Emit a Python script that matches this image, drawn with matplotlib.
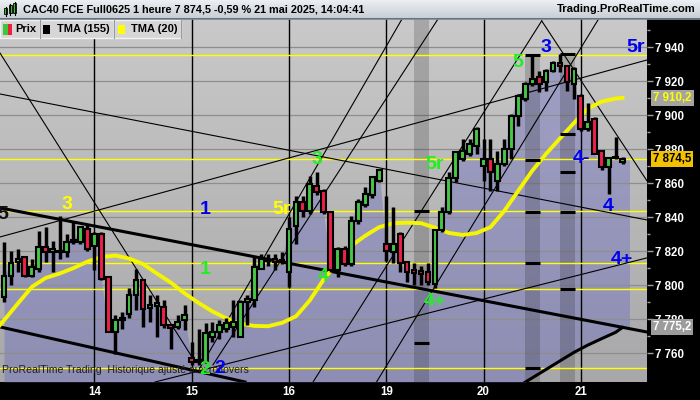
import numpy as np
import matplotlib
matplotlib.use("Agg")
import matplotlib.pyplot as plt
from matplotlib.patches import Rectangle

# ---------------- data ----------------
opens = [7793.0, 7805.7, 7813.5, 7816.5, 7805.7, 7809.7, 7822.3, 7819.4, 7820.4, 7819.4,
         7825.3, 7825.3, 7833.1, 7823.3, 7830.4, 7804.7, 7772.5, 7779.4, 7783.3, 7794.0,
         7802.8, 7786.4, 7787.6, 7787.2, 7776.4, 7775.4, 7779.4, 7757.0, 7755.0, 7754.9,
         7769.6, 7772.5, 7774.5, 7775.2, 7769.6, 7789.9, 7791.1, 7809.8, 7814.0, 7815.5,
         7814.0, 7807.7, 7835.1, 7848.7, 7843.8, 7858.5, 7855.7, 7842.9, 7808.7, 7821.4,
         7812.6, 7838.0, 7847.0, 7852.8, 7861.6, 7824.5, 7819.4, 7830.4, 7813.4, 7808.7,
         7808.1, 7808.0, 7801.0, 7832.5, 7843.3, 7862.8, 7874.3, 7877.3, 7882.1, 7870.0,
         7874.5, 7861.6, 7871.4, 7880.2, 7899.7, 7909.5, 7918.3, 7922.4, 7919.3, 7926.1,
         7931.0, 7929.0, 7918.3, 7911.4, 7891.9, 7897.8, 7879.2, 7869.6, 7874.9, 7872.5]
highs = [7825.3, 7820.4, 7821.6, 7817.5, 7815.7, 7832.1, 7834.1, 7826.3, 7840.9, 7830.4,
         7838.0, 7835.1, 7836.0, 7831.1, 7831.1, 7805.7, 7782.3, 7784.2, 7798.1, 7809.8,
         7803.4, 7794.0, 7794.0, 7791.1, 7777.0, 7782.3, 7788.1, 7766.6, 7774.5, 7777.6,
         7778.4, 7779.4, 7780.5, 7791.1, 7791.1, 7794.0, 7816.5, 7818.5, 7818.6, 7818.6,
         7819.4, 7839.9, 7852.6, 7852.6, 7864.5, 7866.5, 7856.7, 7843.8, 7822.3, 7823.3,
         7840.9, 7850.9, 7857.9, 7863.8, 7868.5, 7852.6, 7845.8, 7831.1, 7814.0, 7812.8,
         7811.6, 7813.0, 7833.3, 7846.2, 7866.8, 7879.0, 7886.1, 7886.1, 7893.1, 7886.1,
         7886.1, 7879.2, 7886.1, 7900.7, 7912.4, 7919.3, 7934.9, 7926.1, 7927.1, 7932.0,
         7935.9, 7929.0, 7928.1, 7912.4, 7907.3, 7898.8, 7879.2, 7875.3, 7887.1, 7875.5]
lows = [7790.1, 7799.9, 7807.7, 7805.0, 7805.0, 7807.7, 7813.5, 7807.7, 7815.7, 7816.5,
        7824.3, 7824.3, 7820.4, 7808.7, 7802.8, 7772.5, 7759.8, 7774.5, 7780.5, 7785.2,
        7775.4, 7778.4, 7769.6, 7774.7, 7762.8, 7774.5, 7773.5, 7753.0, 7753.0, 7754.0,
        7766.6, 7768.6, 7772.5, 7769.6, 7769.4, 7776.4, 7787.2, 7809.7, 7811.6, 7808.7,
        7812.6, 7798.9, 7824.5, 7839.9, 7842.1, 7852.8, 7842.1, 7807.7, 7804.7, 7811.6,
        7811.6, 7836.2, 7846.2, 7851.6, 7860.7, 7814.5, 7812.8, 7807.7, 7802.0, 7799.9,
        7799.9, 7800.0, 7798.4, 7831.1, 7842.1, 7860.8, 7873.3, 7876.1, 7877.3, 7861.6,
        7855.7, 7855.7, 7870.4, 7874.3, 7893.9, 7908.5, 7917.1, 7913.4, 7914.4, 7925.2,
        7925.2, 7914.4, 7909.5, 7890.9, 7890.9, 7877.3, 7867.5, 7853.8, 7874.3, 7871.5]
closes = [7805.7, 7812.8, 7815.7, 7805.7, 7810.6, 7822.3, 7819.4, 7821.6, 7819.4, 7825.3,
          7826.8, 7834.1, 7821.4, 7830.4, 7803.8, 7772.5, 7779.4, 7780.5, 7794.0, 7802.8,
          7786.2, 7788.1, 7789.3, 7776.4, 7774.8, 7778.4, 7782.3, 7755.0, 7756.0, 7772.0,
          7772.5, 7776.4, 7777.6, 7778.2, 7790.1, 7791.7, 7810.6, 7815.7, 7815.1, 7813.5,
          7815.1, 7833.3, 7848.7, 7843.8, 7859.5, 7854.8, 7843.1, 7808.7, 7821.4, 7812.6,
          7838.0, 7848.7, 7853.6, 7863.4, 7867.5, 7820.4, 7824.5, 7812.8, 7808.0, 7807.0,
          7806.9, 7802.0, 7832.5, 7843.3, 7862.8, 7878.6, 7879.2, 7883.1, 7891.9, 7874.0,
          7866.5, 7871.4, 7880.2, 7899.7, 7911.4, 7918.3, 7921.2, 7918.3, 7926.1, 7931.0,
          7929.0, 7919.3, 7927.1, 7891.9, 7895.9, 7877.3, 7869.5, 7874.9, 7874.6, 7874.5]

tma20_idx = [-0.6] + list(range(0, 89, 2)) + [89]
tma20_val = [7776.5, 7779.4, 7789.3, 7799.0, 7804.3, 7806.9, 7810.1, 7813.9, 7816.6, 7817.5,
             7815.7, 7812.5, 7806.9, 7801.6, 7795.2, 7789.6, 7784.6, 7780.5, 7777.4, 7776.1,
             7775.9, 7777.9, 7781.7, 7791.1, 7803.4, 7813.7, 7823.3, 7829.2, 7834.2, 7836.5,
             7836.8, 7836.5, 7833.9, 7830.8, 7829.6, 7830.7, 7834.2, 7843.8, 7855.6, 7867.3,
             7877.3, 7886.4, 7895.4, 7903.9, 7908.0, 7909.8, 7910.2]

tma155_idx = [70, 72, 74, 76, 78, 80, 82, 84, 86, 88, 89]
tma155_val = [7730.5, 7735.5, 7740.5, 7745.5, 7750.5, 7755.5, 7760.5, 7764.8, 7768.6, 7772.3, 7775.2]

day_idx = [13, 27, 41, 55, 69, 83]
day_labels = ["14", "15", "16", "19", "20", "21"]

level_lines = [7935.5, 7874.5, 7843.5, 7813.3, 7797.8, 7751.4]
price_ticks = [7760, 7780, 7800, 7820, 7840, 7860, 7880, 7900, 7920, 7940]

thin_lines = [((-0.58, 7936.6), (27.05, 7757.8)),
              ((-0.58, 7912.5), (92.52, 7838.4)),
              ((-0.58, 7828.4), (92.52, 7932.5)),
              ((21.73, 7743.1), (92.52, 7816.1)),
              ((28.20, 7751.4), (57.27, 7956.6)),
              ((30.07, 7753.2), (62.45, 7956.6)),
              ((44.50, 7743.3), (77.37, 7955.5)),
              ((77.37, 7955.5), (92.52, 7861.4)),
              ((53.63, 7743.3), (85.55, 7956.6))]
thick_lines = [((-0.58, 7845.5), (92.52, 7772.5)),
               ((-0.58, 7775.5), (34.68, 7743.1))]

bands = [(59.0, 61.1, 7956.6), (74.96, 77.12, 7935.5), (80.0, 82.16, 7936.1)]
band_marks = [[7843.7, 7766.1],
              [7935.5, 7873.7, 7843.1, 7813.1, 7751.4],
              [7936.1, 7889.0, 7866.6, 7843.1, 7797.8]]

YEL, GRN, BLU, BLK = "#ffff00", "#22ee22", "#0000ee", "#101010"
wave_labels = [(9.02, 7847.4, "3", YEL), (39.96, 7844.3, "5r", YEL),
               (45.0, 7873.7, "3", GRN), (62.0, 7870.8, "5r", GRN), (74.0, 7930.8, "5", GRN),
               (28.9, 7809.0, "1", GRN), (45.94, 7805.1, "4", GRN), (62.0, 7790.4, "4+", GRN),
               (28.92, 7750.2, "2", GRN),
               (31.0, 7751.2, "2", BLU), (28.92, 7844.5, "1", BLU), (78.0, 7939.6, "3", BLU),
               (90.94, 7939.6, "5r", BLU), (83.1, 7874.7, "4-", BLU), (86.95, 7846.2, "4", BLU),
               (88.9, 7814.9, "4+", BLU), (-0.1, 7841.4, "5", BLK)]

last_price = 7874.5
tma20_last = 7910.2
tma155_last = 7775.2

# ---------------- figure ----------------
FONT = "Liberation Sans"
plt.rcParams["font.family"] = [FONT, "DejaVu Sans"]
W, H = 700, 400
fig = plt.figure(figsize=(7, 4), dpi=100, facecolor="black")

ax = fig.add_axes([0, 18 / H, 647 / W, 363 / H])
XMIN, XMAX = -0.5755, 92.52
YMIN, YMAX = 7743.1, 7956.6
ax.set_xlim(XMIN, XMAX)
ax.set_ylim(YMIN, YMAX)
for s in ax.spines.values():
    s.set_visible(False)

# background gradient
grad = np.linspace(0, 1, 256).reshape(-1, 1)
top_c = np.array([201, 201, 201]) / 255
bot_c = np.array([168, 168, 170]) / 255
img = top_c * (1 - grad[..., None]) + bot_c * grad[..., None]
ax.imshow(img, extent=(XMIN, XMAX, YMIN, YMAX), aspect="auto", origin="upper", zorder=0)

idx = np.arange(len(closes))
c = np.array(closes)
lower = np.maximum(np.interp(idx, tma155_idx, tma155_val, left=YMIN), YMIN)
fx = np.append(idx, 90.0)
fy = np.append(c, c[-1])
fl = np.append(lower, lower[-1])
ax.fill_between(fx, fl, fy, where=fy >= fl, color=(0.42, 0.42, 0.76), alpha=0.42, lw=0, zorder=1)

# gridlines
for p in price_ticks:
    ax.axhline(p, color="#8e8e8e", lw=0.9, zorder=1.6)

# dark vertical zones
for (k0, k1, top), marks in zip(bands, band_marks):
    ax.fill_between([k0, k1], [YMIN, YMIN], [top, top], color="black", alpha=0.17, lw=0, zorder=1.7)
    for m in marks:
        ax.plot([k0, k1], [m, m], color="black", lw=2.2, zorder=4.5, solid_capstyle="butt")

# day separators
for d in day_idx:
    ax.axvline(d, color="black", lw=1.0, zorder=2.5)

# level lines
for lv in level_lines:
    ax.axhline(lv, color=YEL, lw=1.0, zorder=3)

for (a, b) in thin_lines:
    ax.plot([a[0], b[0]], [a[1], b[1]], color="black", lw=0.8, zorder=3.2)
for (a, b) in thick_lines:
    ax.plot([a[0], b[0]], [a[1], b[1]], color="black", lw=2.2, zorder=3.2)

ax.plot(tma155_idx, tma155_val, color="black", lw=2.2, zorder=3.3)
ax.plot(tma20_idx, tma20_val, color="#f5f500", lw=2.8, zorder=4)

# candles
for i, (o, h, l, cl) in enumerate(zip(opens, highs, lows, closes)):
    ax.vlines(i, l, h, color="black", lw=2.5, zorder=5)
    col = "#46c846" if cl >= o else "#f0204a"
    bot = min(o, cl)
    ht = max(abs(cl - o), 0.8)
    ax.add_patch(Rectangle((i - 0.34, bot), 0.68, ht, facecolor=col, edgecolor="black",
                           lw=1.5, zorder=5.5))

# wave labels
for k, p, t, col in wave_labels:
    ax.text(k, p, t, color=col, fontsize=14, fontweight="bold", ha="center", va="center",
            zorder=7, clip_on=False)

ax.text(0.003, 0.018, "ProRealTime Trading  Historique ajusté aux rollovers", transform=ax.transAxes,
        fontsize=7.6, color="#1e1e1e", ha="left", va="bottom", zorder=6.5)

# right price axis
ax.yaxis.tick_right()
ax.set_yticks(price_ticks)
ax.set_yticklabels([f"{p // 1000} {p % 1000:03d}" for p in price_ticks])
ax.set_yticks([p + 10 for p in price_ticks], minor=True)
ax.tick_params(axis="y", which="major", length=4, width=1, color="#a0a0a0", pad=1.5,
               labelcolor="white", labelsize=8.3)
ax.tick_params(axis="y", which="minor", length=2.5, width=1, color="#a0a0a0")
for t in ax.get_yticklabels():
    t.set_fontweight("bold")

ax.set_xticks(day_idx)
ax.set_xticklabels(day_labels)
ax.tick_params(axis="x", length=0, pad=3, labelcolor="white", labelsize=8.3)
for t in ax.get_xticklabels():
    t.set_fontweight("bold")

tr = ax.get_yaxis_transform()
def value_box(v, txt, fc, tc):
    ax.text(1 + 6 / 647, v, txt, transform=tr, fontsize=8.3, fontweight="bold", color=tc,
            ha="left", va="center", clip_on=False, zorder=8,
            bbox=dict(boxstyle="square,pad=0.18", fc=fc, ec="none"))

value_box(tma20_last, "7 910,2", "#a4a4a4", YEL)
value_box(last_price, "7 874,5", "#f2c200", "black")
value_box(tma155_last, "7 775,2", "#9c9c9c", "white")

# ---------------- header / legend overlay ----------------
ov = fig.add_axes([0, 0, 1, 1], zorder=10)
ov.set_axis_off()
hg = np.linspace(0, 1, 64).reshape(-1, 1)
htop = np.array([236, 240, 244]) / 255
hbot = np.array([200, 206, 212]) / 255
himg = htop * (1 - hg[..., None]) + hbot * hg[..., None]
ov.imshow(himg, extent=(0, W, 18, 0), aspect="auto")
ov.plot([0, W], [18.5, 18.5], color="#7d8a96", lw=1.2)
ov.set_xlim(0, W)
ov.set_ylim(H, 0)

# title icon
for x0, y0, hh in [(4, 8, 6), (8.5, 5, 8), (13, 3, 10)]:
    ov.plot([x0 + 1.5, x0 + 1.5], [y0 - 1.5, y0 + hh + 1.5], color="black", lw=0.8)
    ov.add_patch(Rectangle((x0, y0), 3, hh, fc="#3cc83c", ec="black", lw=0.6))
ov.text(23, 9.5, "CAC40 FCE Full0625 1 heure 7 874,5 -0,59 % 21 mai 2025, 14:04:41",
        fontsize=7.8, fontweight="bold", color="black", ha="left", va="center")
ov.text(696, 9.5, "Trading.ProRealTime.com", fontsize=8.1, fontweight="bold", color="black",
        ha="right", va="center")

# legend boxes
for x0, x1 in [(0, 39.5), (39.5, 114), (114, 181)]:
    ov.add_patch(Rectangle((x0, 19.5), x1 - x0, 18.5, fc="#d6d6d6", ec="#f2f2f2", lw=1))
    ov.plot([x1, x1], [19.5, 38], color="#9a9a9a", lw=0.8)
ov.add_patch(Rectangle((3, 24), 4.5, 11, fc="#3cc83c", ec="none"))
ov.add_patch(Rectangle((7.5, 24), 4.5, 11, fc="#f0203c", ec="none"))
ov.text(15, 29, "Prix", fontsize=8, fontweight="bold", color="black", ha="left", va="center")
ov.add_patch(Rectangle((43, 25), 7, 9, fc="black", ec="none"))
ov.text(57, 29, "TMA (155)", fontsize=8, fontweight="bold", color="black", ha="left", va="center")
ov.add_patch(Rectangle((118, 25), 7, 9, fc="#ffff00", ec="none"))
ov.text(131, 29, "TMA (20)", fontsize=8, fontweight="bold", color="black", ha="left", va="center")

fig.savefig("out.png", dpi=100, facecolor="black")
